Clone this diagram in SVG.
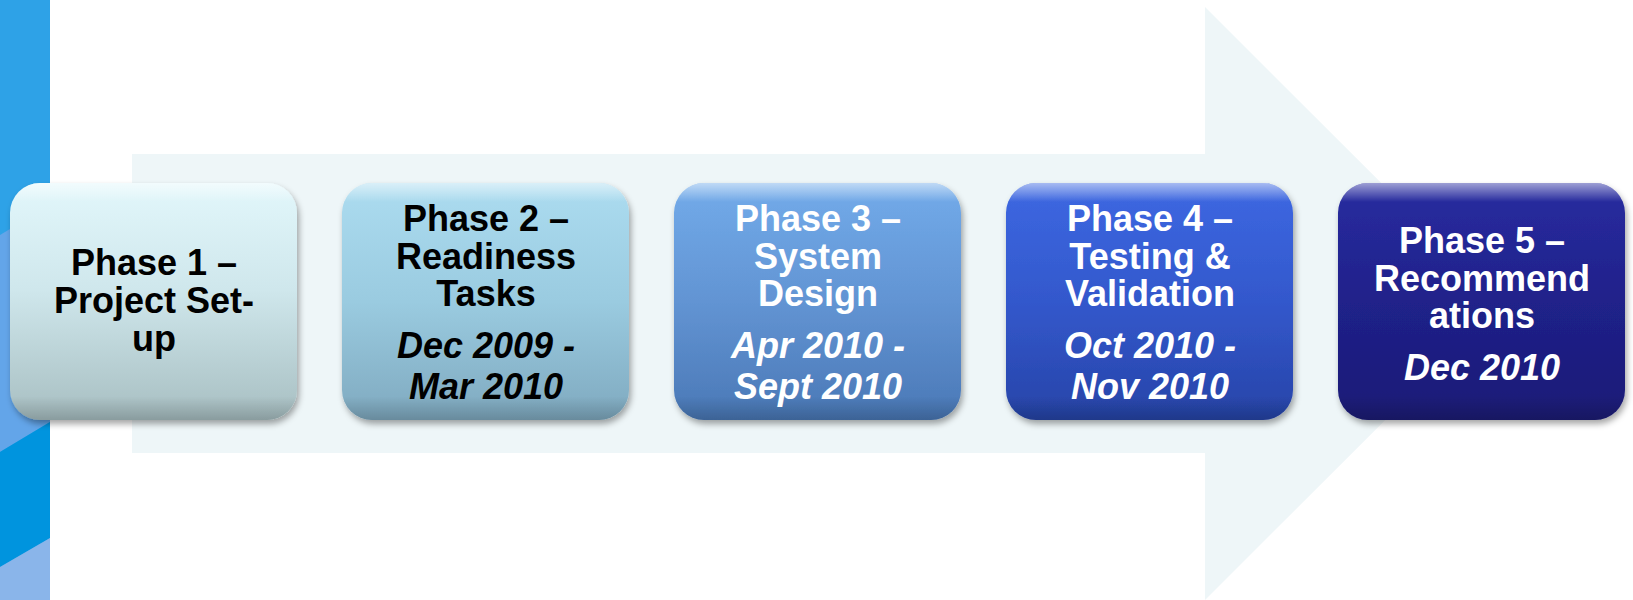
<svg xmlns="http://www.w3.org/2000/svg" width="1633" height="600" viewBox="0 0 1633 600">
  <defs>
    <linearGradient id="g1" x1="0" y1="0" x2="0" y2="1">
      <stop offset="0" stop-color="#e2f7fb"/>
      <stop offset="0.45" stop-color="#cfe7ec"/>
      <stop offset="1" stop-color="#a7bec1"/>
    </linearGradient>
    <linearGradient id="g2" x1="0" y1="0" x2="0" y2="1">
      <stop offset="0" stop-color="#acdcf0"/>
      <stop offset="0.5" stop-color="#9acbe0"/>
      <stop offset="1" stop-color="#7fa9bf"/>
    </linearGradient>
    <linearGradient id="g3" x1="0" y1="0" x2="0" y2="1">
      <stop offset="0" stop-color="#72abea"/>
      <stop offset="0.5" stop-color="#6294d3"/>
      <stop offset="1" stop-color="#4a78b6"/>
    </linearGradient>
    <linearGradient id="g4" x1="0" y1="0" x2="0" y2="1">
      <stop offset="0" stop-color="#3d68e2"/>
      <stop offset="0.5" stop-color="#3358cc"/>
      <stop offset="1" stop-color="#2744a8"/>
    </linearGradient>
    <linearGradient id="g5" x1="0" y1="0" x2="0" y2="1">
      <stop offset="0" stop-color="#282ca0"/>
      <stop offset="0.5" stop-color="#20218a"/>
      <stop offset="1" stop-color="#1a1a76"/>
    </linearGradient>
    <linearGradient id="gloss" x1="0" y1="0" x2="0" y2="1">
      <stop offset="0" stop-color="#ffffff" stop-opacity="0.55"/>
      <stop offset="0.08" stop-color="#ffffff" stop-opacity="0"/>
      <stop offset="0.9" stop-color="#000000" stop-opacity="0"/>
      <stop offset="1" stop-color="#000000" stop-opacity="0.18"/>
    </linearGradient>
    <filter id="shadow" x="-10%" y="-10%" width="125%" height="130%">
      <feDropShadow dx="2" dy="4" stdDeviation="3" flood-color="#000000" flood-opacity="0.35"/>
    </filter>
  </defs>
  <style>
    .box { filter: url(#shadow); }
    .gloss { fill: url(#gloss); }
    text { font-family: "Liberation Sans", Arial, sans-serif; font-weight: bold; font-size: 36px; text-anchor: middle; }
    .dark { fill: #000000; }
    .light { fill: #ffffff; }
    .date { font-style: italic; }
  </style>

  <!-- left decorative strip -->
  <g id="strip">
    <rect x="0" y="0" width="50" height="600" fill="#2ea2e7"/>
    <polygon points="0,235 50,205 50,422 0,452" fill="#63a5e9"/>
    <polygon points="0,452 50,422 50,538 0,567" fill="#0094de"/>
    <polygon points="0,567 50,538 50,600 0,600" fill="#8ab5ea"/>
  </g>

  <!-- big background arrow -->
  <g id="arrow">
    <polygon points="132,154 1205,154 1205,7 1502,303.5 1205,600 1205,453 132,453" fill="#eef6f8"/>
  </g>

  <g id="phase1">
    <rect class="box" x="10" y="183" width="287" height="237" rx="30" fill="url(#g1)"/>
    <rect class="gloss" x="10" y="183" width="287" height="237" rx="30"/>
    <text class="dark" x="154" y="275">Phase 1 –</text>
    <text class="dark" x="154" y="313">Project Set-</text>
    <text class="dark" x="154" y="351">up</text>
  </g>

  <g id="phase2">
    <rect class="box" x="342" y="183" width="287" height="237" rx="30" fill="url(#g2)"/>
    <rect class="gloss" x="342" y="183" width="287" height="237" rx="30"/>
    <text class="dark" x="486" y="231">Phase 2 –</text>
    <text class="dark" x="486" y="269">Readiness</text>
    <text class="dark" x="486" y="306">Tasks</text>
    <text class="dark date" x="486" y="358">Dec 2009 -</text>
    <text class="dark date" x="486" y="399">Mar 2010</text>
  </g>

  <g id="phase3">
    <rect class="box" x="674" y="183" width="287" height="237" rx="30" fill="url(#g3)"/>
    <rect class="gloss" x="674" y="183" width="287" height="237" rx="30"/>
    <text class="light" x="818" y="231">Phase 3 –</text>
    <text class="light" x="818" y="269">System</text>
    <text class="light" x="818" y="306">Design</text>
    <text class="light date" x="818" y="358">Apr 2010 -</text>
    <text class="light date" x="818" y="399">Sept 2010</text>
  </g>

  <g id="phase4">
    <rect class="box" x="1006" y="183" width="287" height="237" rx="30" fill="url(#g4)"/>
    <rect class="gloss" x="1006" y="183" width="287" height="237" rx="30"/>
    <text class="light" x="1150" y="231">Phase 4 –</text>
    <text class="light" x="1150" y="269">Testing &amp;</text>
    <text class="light" x="1150" y="306">Validation</text>
    <text class="light date" x="1150" y="358">Oct 2010 -</text>
    <text class="light date" x="1150" y="399">Nov 2010</text>
  </g>

  <g id="phase5">
    <rect class="box" x="1338" y="183" width="287" height="237" rx="30" fill="url(#g5)"/>
    <rect class="gloss" x="1338" y="183" width="287" height="237" rx="30"/>
    <text class="light" x="1482" y="253">Phase 5 –</text>
    <text class="light" x="1482" y="291">Recommend</text>
    <text class="light" x="1482" y="328">ations</text>
    <text class="light date" x="1482" y="380">Dec 2010</text>
  </g>
</svg>
